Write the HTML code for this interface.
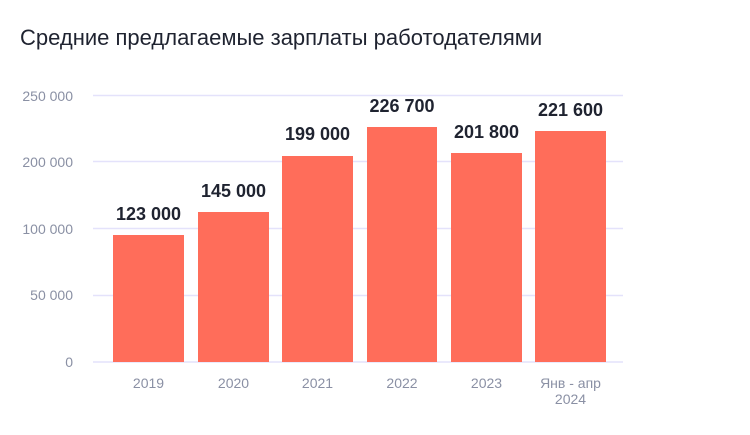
<!DOCTYPE html>
<html><head><meta charset="utf-8"><style>
body{margin:0;background:#fff;width:750px;height:430px;overflow:hidden;font-family:"Liberation Sans","DejaVu Sans",sans-serif;}
</style></head><body>
<svg width="750" height="430" xmlns="http://www.w3.org/2000/svg" font-family="Liberation Sans, DejaVu Sans, sans-serif">
<text x="20" y="45" font-size="22" fill="#1f2330">Средние предлагаемые зарплаты работодателями</text>
<g stroke="#e4e2fb" stroke-width="1.5">
<line x1="93" x2="623" y1="95.5" y2="95.5"/>
<line x1="93" x2="623" y1="161.5" y2="161.5"/>
<line x1="93" x2="623" y1="228.5" y2="228.5"/>
<line x1="93" x2="623" y1="295.5" y2="295.5"/>
<line x1="93" x2="623" y1="362" y2="362"/>
</g>
<g font-size="14" fill="#8a90a4" text-anchor="end">
<text x="73" y="101">250 000</text>
<text x="73" y="167">200 000</text>
<text x="73" y="234">100 000</text>
<text x="73" y="300">50 000</text>
<text x="73" y="367">0</text>
</g>
<g fill="#ff6d5a">
<rect x="113" y="235" width="71" height="127"/>
<rect x="198" y="212" width="71" height="150"/>
<rect x="282" y="156" width="71" height="206"/>
<rect x="367" y="127" width="70" height="235"/>
<rect x="451" y="153" width="71" height="209"/>
<rect x="535" y="131" width="71" height="231"/>
</g>
<g font-size="18" font-weight="bold" fill="#1f2330" text-anchor="middle">
<text x="148.5" y="220">123 000</text>
<text x="233.5" y="197">145 000</text>
<text x="317.5" y="140">199 000</text>
<text x="402" y="112">226 700</text>
<text x="486.5" y="138">201 800</text>
<text x="570.5" y="116">221 600</text>
</g>
<g font-size="14" fill="#8a90a4" text-anchor="middle">
<text x="148.5" y="388">2019</text>
<text x="233.5" y="388">2020</text>
<text x="317.5" y="388">2021</text>
<text x="402" y="388">2022</text>
<text x="486.5" y="388">2023</text>
<text x="570.5" y="388">Янв - апр</text>
<text x="570.5" y="404">2024</text>
</g>
</svg>
</body></html>
